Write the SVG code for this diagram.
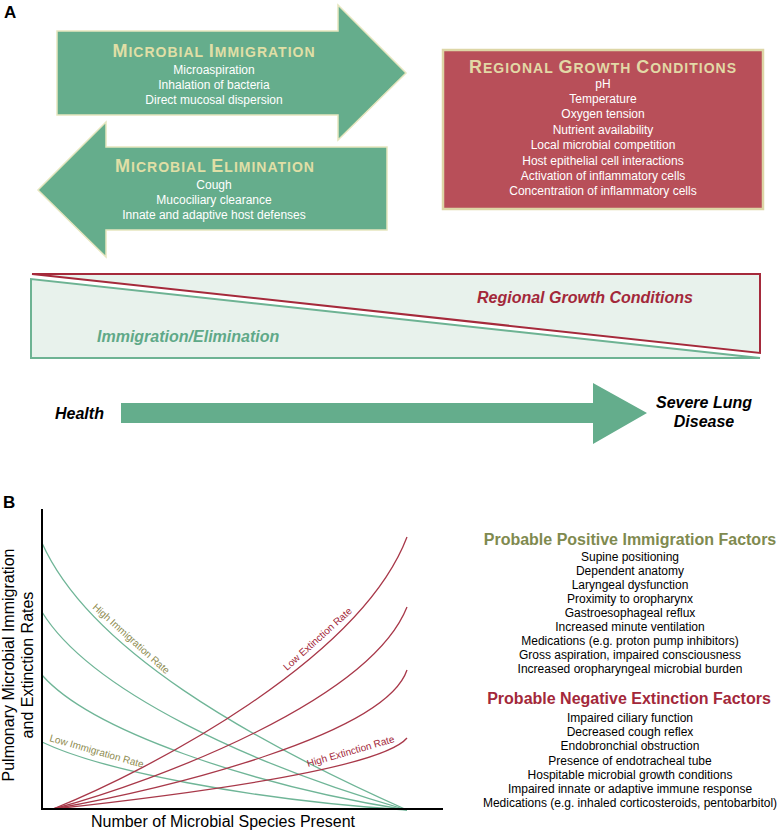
<svg xmlns="http://www.w3.org/2000/svg" width="778" height="832" viewBox="0 0 778 832">
<style>
text{font-family:"Liberation Sans",Arial,sans-serif}
.panel{font-size:17px;font-weight:bold;fill:#000}
.garrow{fill:#65ad8c;stroke:#e6e6bf;stroke-width:1.5}
.rbox{fill:#b84f59;stroke:#ddd6a6;stroke-width:2.5}
.title{font-size:14px;font-weight:bold;letter-spacing:1px;fill:#e0dfa6;text-anchor:middle}
.title .big{font-size:18px}
.wt{font-size:12px;fill:#fff;text-anchor:middle}
.bi{font-size:16px;font-weight:bold;font-style:italic}
.gc{fill:none;stroke:#6fb597;stroke-width:1.3}
.rc{fill:none;stroke:#a83849;stroke-width:1.3}
.lab{font-size:10px}
.olive{fill:#8e8c50}
.red{fill:#a3283a}
.ax{font-size:16px;fill:#000}
.h2{font-size:16px;font-weight:bold;text-anchor:middle}
.item{font-size:12px;fill:#000;text-anchor:middle}
</style>

<text class="panel" x="4" y="18">A</text>

<g id="immigration">
<polygon class="garrow" points="57,31 338,31 338,5 406,73 338,140 338,115 57,115"/>
<text class="title" x="214" y="57"><tspan class="big">M</tspan>ICROBIAL <tspan class="big">I</tspan>MMIGRATION</text>
<text class="wt" x="214" y="74">Microaspiration</text>
<text class="wt" x="214" y="89">Inhalation of bacteria</text>
<text class="wt" x="214" y="104">Direct mucosal dispersion</text>
</g>

<g id="elimination">
<polygon class="garrow" points="387,147 106,147 106,122 38,190 106,257 106,230 387,230"/>
<text class="title" x="215" y="172"><tspan class="big">M</tspan>ICROBIAL <tspan class="big">E</tspan>LIMINATION</text>
<text class="wt" x="214" y="189">Cough</text>
<text class="wt" x="214" y="204">Mucociliary clearance</text>
<text class="wt" x="214" y="219">Innate and adaptive host defenses</text>
</g>

<g id="regional">
<rect class="rbox" x="443" y="50" width="320" height="159"/>
<text class="title" x="603" y="73" style="fill:#e2d9a6"><tspan class="big">R</tspan>EGIONAL <tspan class="big">G</tspan>ROWTH <tspan class="big">C</tspan>ONDITIONS</text>
<text class="wt" x="603" y="88">pH</text>
<text class="wt" x="603" y="103">Temperature</text>
<text class="wt" x="603" y="118">Oxygen tension</text>
<text class="wt" x="603" y="134">Nutrient availability</text>
<text class="wt" x="603" y="149">Local microbial competition</text>
<text class="wt" x="603" y="165">Host epithelial cell interactions</text>
<text class="wt" x="603" y="180">Activation of inflammatory cells</text>
<text class="wt" x="603" y="195">Concentration of inflammatory cells</text>
</g>

<g id="balance">
<polygon points="32,274 760,274 760,353" fill="#e8f2ec" stroke="#a52a3b" stroke-width="2"/>
<polygon points="31,279 31,358 760,358" fill="#e8f2ec" stroke="#6db393" stroke-width="2"/>
<text class="bi red" x="477" y="303">Regional Growth Conditions</text>
<text class="bi" x="97" y="342" fill="#5fa988">Immigration/Elimination</text>
</g>

<g id="progression">
<polygon points="121,403 593,403 593,383 647,413 593,444 593,423 121,423" fill="#64ad8c"/>
<text class="bi" x="55" y="419">Health</text>
<text class="bi" x="704" y="408" text-anchor="middle">Severe Lung</text>
<text class="bi" x="704" y="427" text-anchor="middle">Disease</text>
</g>

<text class="panel" x="3" y="508">B</text>

<g id="chart">
<g id="connectors">
<path class="gc" d="M42,543 C90,650 250,740 407,810"/>
<path class="gc" d="M42,612 C90,690 250,765 407,810"/>
<path class="gc" d="M42,675 C90,730 250,785 407,810"/>
<path class="gc" d="M42,742 C100,770 250,800 407,810"/>
<path class="rc" d="M53,809 C150,770 360,660 407,537"/>
<path class="rc" d="M53,809 C160,780 370,700 407,607"/>
<path class="rc" d="M53,809 C170,788 385,735 407,670"/>
<path class="rc" d="M53,809 C180,795 380,770 407,738"/>
</g>
<path d="M42,509 L42,809 L443,809" fill="none" stroke="#000" stroke-width="2"/>
<text class="lab olive" transform="translate(92,608) rotate(42)">High Immigration Rate</text>
<text class="lab olive" transform="translate(49,741) rotate(16)">Low Immigration Rate</text>
<text class="lab red" transform="translate(287,671) rotate(-42)">Low Extinction Rate</text>
<text class="lab red" transform="translate(308,767) rotate(-16)">High Extinction Rate</text>
<text class="ax" transform="translate(14,665) rotate(-90)" text-anchor="middle">Pulmonary Microbial Immigration</text>
<text class="ax" transform="translate(33,665) rotate(-90)" text-anchor="middle">and Extinction Rates</text>
<text class="ax" x="223" y="827" text-anchor="middle">Number of Microbial Species Present</text>
</g>

<g id="positive">
<text class="h2" x="630" y="545" fill="#7f8a4f">Probable Positive Immigration Factors</text>
<text class="item" x="630" y="561">Supine positioning</text>
<text class="item" x="630" y="575">Dependent anatomy</text>
<text class="item" x="630" y="589">Laryngeal dysfunction</text>
<text class="item" x="630" y="603">Proximity to oropharynx</text>
<text class="item" x="630" y="617">Gastroesophageal reflux</text>
<text class="item" x="630" y="631">Increased minute ventilation</text>
<text class="item" x="630" y="645">Medications (e.g. proton pump inhibitors)</text>
<text class="item" x="630" y="659">Gross aspiration, impaired consciousness</text>
<text class="item" x="630" y="673">Increased oropharyngeal microbial burden</text>
</g>

<g id="negative">
<text class="h2 red" x="629" y="704">Probable Negative Extinction Factors</text>
<text class="item" x="630" y="722">Impaired ciliary function</text>
<text class="item" x="630" y="736">Decreased cough reflex</text>
<text class="item" x="630" y="750">Endobronchial obstruction</text>
<text class="item" x="630" y="765">Presence of endotracheal tube</text>
<text class="item" x="630" y="779">Hospitable microbial growth conditions</text>
<text class="item" x="630" y="793">Impaired innate or adaptive immune response</text>
<text class="item" x="630" y="807">Medications (e.g. inhaled corticosteroids, pentobarbitol)</text>
</g>
</svg>
